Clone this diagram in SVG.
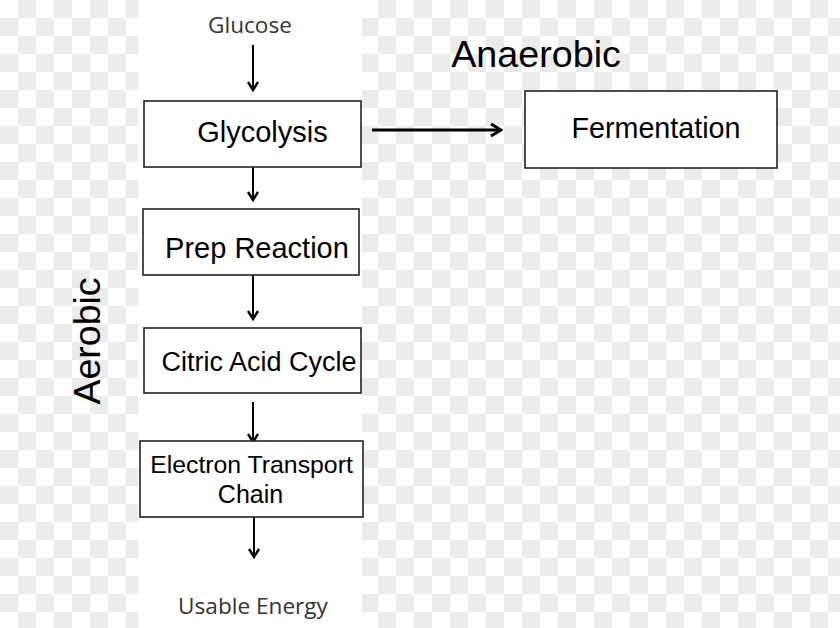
<svg xmlns="http://www.w3.org/2000/svg" width="840" height="628" viewBox="0 0 840 628">
<defs>
<pattern id="chk" width="36" height="36" patternUnits="userSpaceOnUse">
<rect width="36" height="36" fill="#ffffff"/>
<rect x="18" y="0" width="18" height="18" fill="#ebebeb"/>
<rect x="0" y="18" width="18" height="18" fill="#ebebeb"/>
</pattern>
<marker id="ah" viewBox="0 0 12 12" refX="10" refY="6" markerWidth="12" markerHeight="12" markerUnits="userSpaceOnUse" orient="auto">
<polyline points="2,1 10,6 2,11" fill="none" stroke="#000" stroke-width="2.4"/>
</marker>
<marker id="ah2" viewBox="0 0 14 14" refX="12" refY="7" markerWidth="14" markerHeight="14" markerUnits="userSpaceOnUse" orient="auto">
<polyline points="2,1 12,7 2,13" fill="none" stroke="#000" stroke-width="3"/>
</marker>
</defs>
<style>
.box{fill:#fff;stroke:#222;stroke-width:1.6}
.t{font-family:"Liberation Sans",Arial,sans-serif;fill:#000;text-anchor:middle}
.c{font-family:"Open Sans","Liberation Sans",sans-serif;fill:#333;text-anchor:middle;font-size:22.6px}
.ln{stroke:#000;stroke-width:2;fill:none;marker-end:url(#ah)}
</style>
<rect width="840" height="628" fill="url(#chk)"/>
<rect x="138" y="0" width="224" height="628" fill="#fff"/>
<g id="connectors">
<line class="ln" x1="253" y1="45" x2="253" y2="90"/>
<line class="ln" x1="253" y1="167" x2="253" y2="200"/>
<line class="ln" x1="253" y1="275" x2="253" y2="319"/>
<line class="ln" x1="253" y1="402" x2="253" y2="442"/>
<line class="ln" x1="254" y1="517" x2="254" y2="557"/>
<line x1="372" y1="130" x2="501" y2="130" stroke="#000" stroke-width="3" marker-end="url(#ah2)"/>
</g>
<g id="glucose"><text class="c" x="250" y="33">Glucose</text></g>
<g id="glycolysis">
<rect class="box" x="144" y="101" width="217" height="66"/>
<text class="t" x="262.5" y="142" font-size="29">Glycolysis</text>
</g>
<g id="prep">
<rect class="box" x="143" y="209" width="216" height="66"/>
<text class="t" x="257" y="258" font-size="29">Prep Reaction</text>
</g>
<g id="citric">
<rect class="box" x="144" y="328" width="217" height="65"/>
<text class="t" x="259" y="371" font-size="27">Citric Acid Cycle</text>
</g>
<g id="etc">
<rect class="box" x="140" y="441" width="223" height="76"/>
<text class="t" x="251.5" y="473" font-size="24.8">Electron Transport</text>
<text class="t" x="250.5" y="503" font-size="25">Chain</text>
</g>
<g id="usable"><text class="c" x="253" y="614">Usable Energy</text></g>
<g id="anaerobic"><text class="t" x="536" y="67" font-size="37.7">Anaerobic</text></g>
<g id="aerobic"><text class="t" transform="translate(100,341) rotate(-90)" x="0" y="0" font-size="37.5">Aerobic</text></g>
<g id="fermentation">
<rect class="box" x="525" y="91" width="252" height="77"/>
<text class="t" x="656" y="138" font-size="28.7">Fermentation</text>
</g>
</svg>
